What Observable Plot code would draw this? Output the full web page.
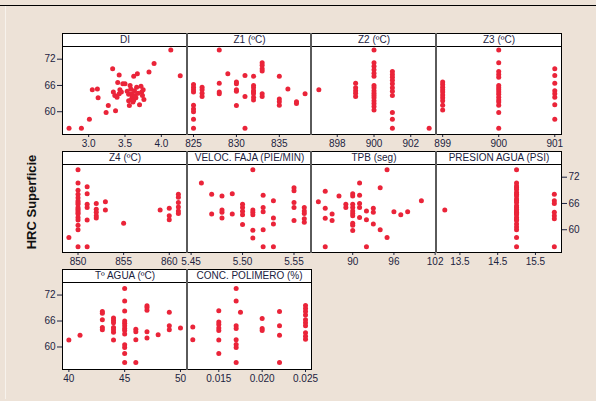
<!DOCTYPE html>
<html><head><meta charset="utf-8">
<script src="https://cdn.jsdelivr.net/npm/d3@7"></script>
<script src="https://cdn.jsdelivr.net/npm/@observablehq/plot@0.6"></script>
<style>
body{margin:0;background:#EDE2D7;}
#c{position:relative;width:596px;height:401px;overflow:hidden;background:#EDE2D7;font-family:"Liberation Sans",Arial,sans-serif;}
.hdr{position:absolute;background:#fff;border:1px solid #000;box-sizing:border-box;font-size:10px;text-align:center;color:#1c2340;line-height:11px;white-space:nowrap;overflow:hidden;}
.pan{position:absolute;}
#ylab{position:absolute;left:31px;top:202px;transform:translate(-50%,-50%) rotate(-90deg);font-weight:bold;font-size:13px;color:#111;white-space:nowrap;}
</style></head><body><div id="c"></div><script>
// ---- data (HRC Superficie vs each variable) ----
const yTicks = [60, 66, 72];
const titles = ["DI","Z1 (ºC)","Z2 (ºC)","Z3 (ºC)","Z4 (ºC)","VELOC. FAJA (PIE/MIN)","TPB (seg)","PRESION AGUA (PSI)","Tº AGUA (ºC)","CONC. POLIMERO (%)"];
const diPairs = [[2.73,56.2],[2.90,56.2],[3.01,58.3],[3.05,65.0],[3.12,65.2],[3.13,63.2],[3.24,59.8],[3.27,61.4],[3.33,69.8],[3.37,60.2],[3.34,64.5],[3.36,63.7],[3.39,63.3],[3.40,66.7],[3.42,68.4],[3.43,65.0],[3.42,64.1],[3.45,64.5],[3.47,66.4],[3.50,66.4],[3.53,64.7],[3.55,64.0],[3.55,62.5],[3.56,61.4],[3.57,66.0],[3.58,65.2],[3.59,64.1],[3.59,62.9],[3.60,63.5],[3.61,62.2],[3.62,62.7],[3.62,68.1],[3.63,64.8],[3.64,63.7],[3.65,63.2],[3.66,65.6],[3.67,68.7],[3.68,64.2],[3.70,61.6],[3.72,65.8],[3.73,64.5],[3.74,63.7],[3.75,65.0],[3.76,62.8],[3.83,69.1],[3.90,71.0],[4.13,74.1],[4.26,68.2]];
const z1Cols = [[825,[66.2,65.6,65.0,64.5,61.5,60.6,60.0,58.3,56.2]],[826,[65.6,65.0,64.2,63.5]],[828,[74.1,66.5,64.5,64.1]],[829,[68.7]],[830,[66.8,66.4,65.0,64.7,61.4]],[831,[68.3,63.5,56.2]],[832,[68.1,66.0,65.5,64.8,64.5,64.1,63.3,62.7]],[833,[71.2,70.6,69.8,69.3,64.1,63.5]],[835,[68.1,62.9,62.3,61.5]],[836,[65.2]],[837,[62.3,61.9]],[838,[64.1]]];
const z2Cols = [[897,[65.0]],[899,[66.5,65.5,64.8,64.2,63.5]],[900,[74.1,71.2,70.4,69.6,68.8,68.1,66.0,65.5,64.8,64.2,63.7,63.2,62.5,61.9,61.2,60.4]],[901,[69.2,68.5,67.9,67.2,66.4,65.5,64.7,63.7,59.8,58.3,56.2]],[903,[56.2]]];
const z3Cols = [[899,[66.8,66.2,65.6,65.0,64.5,63.8,63.2,62.5,61.5,60.4]],[900,[74.1,71.2,69.2,68.5,67.9,66.0,65.5,65.0,64.5,64.0,63.3,62.7,62.2,61.5,59.8,56.2]],[901,[69.8,68.3,66.5,64.8,64.1,63.3,61.6,58.3]]];
const z4Cols = [[849,[58.2]],[850,[73.7,70.7,69.0,68.1,67.3,66.6,66.2,65.8,65.1,64.7,64.3,63.9,63.6,62.8,62.2,61.0,60.0,56.1]],[851,[69.8,68.2,65.8,65.1,62.2,56.1]],[852,[66.0,64.7,64.0,63.2,62.7]],[853,[66.4,64.5]],[855,[61.5]],[859,[64.5]],[860,[64.9,63.2,62.3]],[861,[68.1,67.4,66.2,65.2,64.3,63.7]]];
const velCols = [[5.46,[70.7]],[5.47,[68.1,63.6]],[5.48,[67.7,64.5,64.0,62.7]],[5.49,[68.2,63.6]],[5.50,[65.8,65.1,64.2,63.4,61.2]],[5.51,[73.7,64.5,64.0,63.4,59.9,58.1]],[5.52,[67.9,65.1,64.1,60.0,56.1]],[5.53,[66.6,62.7,61.3,56.1]],[5.55,[69.6,68.9,66.2,65.1,62.1]],[5.56,[65.1,64.3,63.7,62.5,61.7]]];
const tpbCols = [[85,[66.4]],[86,[68.8,64.9,62.6,56.1]],[87,[63.6,62.1]],[88,[67.7]],[89,[65.8,65.1]],[90,[68.2,67.7,65.8,65.1,64.3,63.7,63.2,61.5,61.0,59.8]],[91,[70.7,67.9,66.0,65.1,62.8]],[92,[64.3,62.3,56.1]],[93,[64.9,64.0,61.3]],[94,[69.6,60.0]],[95,[73.7,58.2]],[96,[64.1]],[97,[63.4]],[98,[64.1]],[100,[66.6]]];
const presCols = [[13.1,[64.5]],[15.0,[73.7,70.7,70.0,69.6,69.2,68.5,68.1,67.7,67.0,66.6,66.2,65.5,65.1,64.7,64.3,64.0,63.7,63.4,62.8,62.4,62.1,61.3,60.6,60.0,58.2,56.1]],[16.0,[68.1,66.6,66.0,64.0,63.2,62.5,56.1]]];
const tagCols = [[40,[61.6]],[41,[62.7]],[43,[68.2,67.8,66.3,64.5,64.0]],[44,[66.7,66.1,65.6,64.5,64.0,63.4,61.6]],[45,[73.5,70.6,68.3,66.0,65.5,64.9,64.3,63.8,63.0,60.5,59.9,58.5,56.4]],[46,[64.1,63.5,61.7,56.4]],[47,[69.5,69.1,68.5,63.5,62.1]],[48,[62.8]],[49,[68.0,64.9,64.0]],[50,[64.4]]];
const concCols = [[0.012,[64.6,61.7]],[0.015,[68.4,65.8,65.2,64.4,63.8,61.6,58.5]],[0.017,[73.5,70.6,64.9,64.3,61.7,60.6,59.9,56.4]],[0.0175,[68.0]],[0.020,[66.6,64.3,63.8]],[0.022,[68.2,64.9,62.7,56.4]],[0.025,[69.6,68.9,68.2,67.4,66.3,65.6,64.9,63.3,62.5,61.8]]];
const xTicks = [[3.0,3.5,4.0],[825,830,835],[898,900,902],[899,900,901],[850,855,860],[5.45,5.50,5.55],[90,96,102],[13.5,14.5,15.5],[40,45,50],[0.015,0.020,0.025]];
const xFormats = [".1f","d","d","d","d",".2f","d",".1f","d",".3f"];

// ---- layout ----
const flat = cols => cols.flatMap(([x, ys]) => ys.map(y => [x, y]));
const panelData = [diPairs, flat(z1Cols), flat(z2Cols), flat(z3Cols), flat(z4Cols), flat(velCols), flat(tpbCols), flat(presCols), flat(tagCols), flat(concCols)];
const xDomains = [[2.64,4.36],[824.3,838.75],[896.6,903.4],[898.89,901.12],[848.3,862.0],[5.4465,5.567],[84.0,102.2],[12.88,16.19],[39.43,50.63],[0.01139,0.02569]];
const colX = [62,187,311,436,561];
const rowY = [[46,134],[164,252],[282,369]];
const yAxisSide = [ "left",null,null,null, null,null,null,"right", "left",null ];
const c = document.getElementById("c");
const font = '"Liberation Sans", Arial, sans-serif';

function add(el, css){ Object.assign(el.style, css); c.appendChild(el); return el; }

add(document.createElement("div"), {position:"absolute",left:"0px",top:"5px",width:"596px",height:"1px",background:"#000"});
add(document.createElement("div"), {position:"absolute",left:"5px",top:"6px",width:"1px",height:"393px",background:"#f7f2ec"});

const ML = 40, MR = 40, MT = 4, MB = 22;
panelData.forEach((pts, i) => {
  const row = Math.floor(i / 4), col = i % 4;
  const x0 = colX[col], x1 = colX[col+1];
  const [y0, y1] = rowY[row];
  const w = x1 - x0, h = y1 - y0;
  const fmt = d3.format(xFormats[i]);
  const svg = Plot.plot({
    width: w + ML + MR, height: h + MT + MB,
    marginLeft: ML, marginRight: MR, marginTop: MT, marginBottom: MB,
    style: {background: "transparent", overflow: "visible", fontSize: "10px", fontFamily: font, color: "#1c2340", maxWidth: "none"},
    x: {domain: xDomains[i], ticks: xTicks[i], tickFormat: fmt, tickSize: 3, tickPadding: 2, label: null},
    y: {domain: [54.8, 74.9], ticks: yTicks, axis: yAxisSide[i], tickSize: 5, tickPadding: 2, label: null},
    marks: [
      Plot.frame({fill: "white"}),
      Plot.dot(pts, {x: d => d[0], y: d => d[1], r: 2.5, fill: "#ea2439", stroke: "none"}),
      Plot.frame({stroke: "#000", strokeWidth: 1})
    ]
  });
  const wrap = document.createElement("div");
  wrap.className = "pan";
  wrap.style.left = (x0 - ML) + "px";
  wrap.style.top = (y0 - MT) + "px";
  wrap.appendChild(svg);
  c.appendChild(wrap);
  const hd = document.createElement("div");
  hd.className = "hdr";
  hd.textContent = titles[i];
  Object.assign(hd.style, {left: x0 + "px", top: (y0 - 13) + "px", width: (w + 1) + "px", height: "14px"});
  c.appendChild(hd);
});
[[0,[1,2,3]],[1,[1,2,3]],[2,[1]]].forEach(([row, cols]) => {
  cols.forEach(col => {
    add(document.createElement("div"), {position:"absolute", left:(colX[col]-1)+"px", top:(rowY[row][0]-13)+"px", width:"2px", height:(rowY[row][1]-rowY[row][0]+14)+"px", background:"#5a5a5a"});
  });
});
const yl = document.createElement("div");
yl.id = "ylab"; yl.textContent = "HRC Superficie";
c.appendChild(yl);
</script></body></html>
